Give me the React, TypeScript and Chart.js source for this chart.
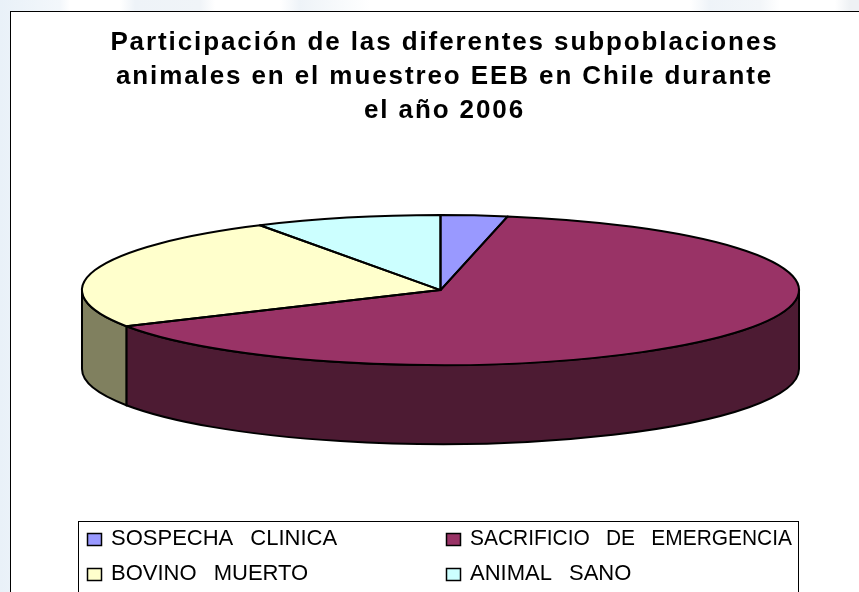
import React, { useEffect, useRef } from "react";
import { Chart, registerables } from "chart.js";

Chart.register(...registerables);

const titleLines = [
  "Participación de las diferentes subpoblaciones",
  "animales en el muestreo EEB en Chile durante",
  "el año 2006",
];
const categories = ["SOSPECHA CLINICA", "SACRIFICIO DE EMERGENCIA", "BOVINO MUERTO", "ANIMAL SANO"];
const shares = [3, 64, 24.6, 8.4];
const topColors = ["#9999ff", "#993366", "#ffffcc", "#ccffff"];
const sideColors = ["#4d4d80", "#4d1b33", "#80805f", "#668080"];

const SQUASH = 75 / 358.5;
const DEPTH = 79;
const FONT = '"Liberation Sans", Arial, sans-serif';

const tilt = {
  id: "tilt",
  afterLayout(chart: any) {
    const t = chart.titleBlock;
    if (t) {
      t.left += 4;
      t.right += 4;
    }
  },
  beforeDraw(chart: any) {
    const { ctx } = chart;
    ctx.save();
    ctx.fillStyle = "#ffffff";
    ctx.fillRect(10, 11, 860, 600);
    ctx.strokeStyle = "#000000";
    ctx.lineWidth = 1;
    ctx.strokeRect(10.5, 11.5, 860, 600);
    ctx.restore();
    ctx.letterSpacing = "1.9px";
  },
  beforeDatasetsDraw(chart: any) {
    const { ctx } = chart;
    ctx.letterSpacing = "0px";
    const arcs = chart.getDatasetMeta(0).data;
    const first = arcs[0];
    const cx = first.x;
    const cy = first.y;
    const rx = first.outerRadius;
    const ry = rx * SQUASH;
    ctx.save();
    ctx.lineWidth = 2;
    ctx.strokeStyle = "#000000";
    arcs.forEach((arc: any, i: number) => {
      const a = arc.startAngle;
      const b = arc.endAngle;
      const from = Math.max(a, 0);
      const to = Math.min(b, Math.PI);
      if (to <= from) return;
      ctx.beginPath();
      ctx.ellipse(cx, cy, rx, ry, 0, from, to);
      ctx.ellipse(cx, cy + DEPTH, rx, ry, 0, to, from, true);
      ctx.closePath();
      ctx.fillStyle = sideColors[i];
      ctx.fill();
      ctx.stroke();
    });
    ctx.restore();
    ctx.save();
    ctx.translate(cx, cy);
    ctx.scale(1, SQUASH);
    ctx.translate(-cx, -cy);
  },
  afterDatasetsDraw(chart: any) {
    const { ctx } = chart;
    ctx.restore();
    const arcs = chart.getDatasetMeta(0).data;
    ctx.save();
    ctx.lineWidth = 2;
    ctx.strokeStyle = "#000000";
    ctx.lineJoin = "round";
    arcs.forEach((arc: any) => {
      const rx = arc.outerRadius;
      ctx.beginPath();
      ctx.moveTo(arc.x, arc.y);
      ctx.ellipse(arc.x, arc.y, rx, rx * SQUASH, 0, arc.startAngle, arc.endAngle);
      ctx.closePath();
      ctx.stroke();
    });
    ctx.restore();

    // Two-column legend in a framed box, as in the original
    const colX = [87, 446];
    const rowY = [533, 568];
    ctx.save();
    ctx.strokeStyle = "#000000";
    ctx.lineWidth = 1;
    ctx.strokeRect(78.5, 521.5, 720, 90);
    ctx.font = `22px ${FONT}`;
    ctx.textBaseline = "alphabetic";
    ctx.letterSpacing = "0px";
    ctx.wordSpacing = "11px";
    chart.data.labels.forEach((label: string, i: number) => {
      const x = colX[i % 2];
      const y = rowY[Math.floor(i / 2)];
      ctx.fillStyle = topColors[i];
      ctx.fillRect(x + 0.5, y + 0.5, 14, 12);
      ctx.lineWidth = 1.5;
      ctx.strokeRect(x + 0.5, y + 0.5, 14, 12);
      ctx.fillStyle = "#000000";
      ctx.fillText(label, x + 24, y + 12, 322);
    });
    ctx.restore();
  },
};

export default function App() {
  const ref = useRef<HTMLCanvasElement>(null);
  useEffect(() => {
    document.body.style.margin = "0";
    const chart = new Chart(ref.current!, {
      type: "pie",
      data: {
        labels: categories,
        datasets: [
          {
            data: shares,
            backgroundColor: topColors,
            borderWidth: 0,
            clip: false,
          } as any,
        ],
      },
      options: {
        responsive: false,
        animation: false,
        radius: 358.5,
        rotation: 0,
        layout: { padding: { left: 22, right: 0, top: 0, bottom: 140 } },
        plugins: {
          legend: { display: false },
          tooltip: { enabled: false },
          title: {
            display: true,
            text: titleLines,
            color: "#000000",
            font: { family: FONT, size: 26, weight: "bold", lineHeight: 1.31 },
            padding: { top: 26, bottom: 0 },
          },
        },
      } as any,
      plugins: [tilt],
    });
    return () => chart.destroy();
  }, []);
  return (
    <div
      style={{
        width: 859,
        height: 592,
        overflow: "hidden",
        background:
          "linear-gradient(90deg,#e9f1f8 0,#f3f7fb 60px,#ffffff 70px,#ffffff 120px,#eef3f8 135px,#f0f4f8 200px,#ffffff 215px,#ffffff 280px,#eef3f8 300px,#ffffff 370px,#ffffff 690px,#eef3f8 710px,#f3f6f9 760px,#ffffff 780px,#ffffff 835px,#eef1f4 850px)",
      }}
    >
      <canvas ref={ref} width={859} height={592} style={{ display: "block" }} />
    </div>
  );
}
